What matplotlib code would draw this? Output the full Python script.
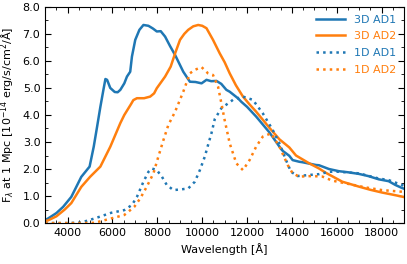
import numpy as np
import matplotlib.pyplot as plt

# wavelength [A] and flux [1e-14 erg/s/cm2/A]
wl_3d_ad1 = [3000, 3130, 3500, 3800, 4165, 4610, 4980, 5165, 5315, 5460, 5600, 5685, 5760,
             5900, 6100, 6230, 6350, 6527, 6645, 6790, 6867, 7015, 7200, 7380, 7600,
             7800, 7975, 8150, 8345, 8565, 8790, 9155, 9450, 9700, 9970, 10190, 10400,
             10635, 10850, 11075, 11225, 11590, 11740, 12000, 12405, 13000, 13440, 13590,
             13880, 14030, 14320, 14475, 15065, 15205, 15650, 16090, 16500, 16980, 17400,
             17865, 18310, 18610, 18900, 19000]
fl_3d_ad1 = [0.12, 0.17, 0.37, 0.6, 0.97, 1.71, 2.09, 2.83, 3.57, 4.3, 4.95, 5.33, 5.3,
             5.0, 4.85, 4.84, 4.93, 5.17, 5.42, 5.6, 6.16, 6.78, 7.15, 7.33, 7.3,
             7.2, 7.09, 7.1, 6.9, 6.55, 6.22, 5.6, 5.23, 5.22, 5.17, 5.3, 5.25,
             5.26, 5.15, 4.93, 4.86, 4.62, 4.49, 4.3, 3.94, 3.35, 2.83, 2.67,
             2.49, 2.33, 2.27, 2.25, 2.15, 2.14, 2.0, 1.92, 1.88, 1.82, 1.74,
             1.62, 1.55, 1.41, 1.3, 1.27]

wl_3d_ad2 = [3000, 3130, 3500, 3870, 4165, 4610, 5000, 5460, 5905, 6350, 6527, 6825,
             6930, 7090, 7410, 7680, 7855, 7975, 8345, 8595, 8800, 9010, 9200, 9375, 9600,
             9820, 10000, 10190, 10480, 10780, 11000, 11225, 11500, 11815, 12100, 12405,
             13000, 13440, 13880, 14180, 14770, 15205, 15510, 16090, 16245, 16980,
             17500, 18015, 18500, 18900, 19000]
fl_3d_ad2 = [0.08, 0.1, 0.25, 0.5, 0.74, 1.34, 1.71, 2.09, 2.83, 3.7, 4.0, 4.4,
             4.55, 4.62, 4.62, 4.68, 4.8, 4.99, 5.42, 5.79, 6.3, 6.78, 7.0, 7.15, 7.28,
             7.33, 7.3, 7.21, 6.78, 6.28, 5.95, 5.54, 5.1, 4.68, 4.4, 4.12,
             3.52, 3.1, 2.8, 2.5, 2.21, 2.02, 1.86, 1.6, 1.53, 1.35,
             1.23, 1.13, 1.05, 0.98, 0.96]

wl_1d_ad1 = [3000, 4000, 4600, 5200, 5940, 6527, 6867, 7090, 7380, 7605, 7755, 7975,
             8200, 8420, 8715, 9085, 9375, 9670, 9895, 10115, 10260, 10410, 10560,
             10855, 11370, 11815, 12255, 12700, 13145, 13440, 13735, 13955, 14250,
             14770, 15205, 15650, 16090, 16980, 17865, 18310, 18900, 19000]
fl_1d_ad1 = [0.0, 0.0, 0.02, 0.17, 0.38, 0.48, 0.67, 0.97, 1.53, 1.9, 2.02, 1.96,
             1.72, 1.41, 1.22, 1.25, 1.28, 1.53, 1.96, 2.46, 2.89, 3.32, 3.85,
             4.25, 4.56, 4.68, 4.56, 4.06, 3.44, 2.95, 2.33, 1.9, 1.74,
             1.78, 1.81, 1.9, 1.9, 1.84, 1.65, 1.59, 1.41, 1.38]

wl_1d_ad2 = [3000, 4500, 5200, 5940, 6527, 6970, 7235, 7530, 7825, 8045, 8270, 8490,
             8790, 9155, 9450, 9670, 9970, 10260, 10480, 10705, 10855, 11000, 11225,
             11520, 11815, 12110, 12405, 12700, 13070, 13440, 13810, 14030, 14320,
             14915, 15355, 15800, 16390, 17275, 18015, 18900, 19000]
fl_1d_ad2 = [0.0, 0.0, 0.01, 0.17, 0.3, 0.6, 0.91, 1.35, 1.84, 2.46, 3.07, 3.63,
             4.12, 4.86, 5.54, 5.67, 5.77, 5.54, 5.48, 5.05, 4.43, 3.81, 2.95,
             2.21, 1.96, 2.33, 2.83, 3.2, 3.32, 2.83, 2.15, 1.84, 1.72,
             1.74, 1.72, 1.57, 1.47, 1.32, 1.22, 1.16, 1.15]

labels = ['3D AD1', '3D AD2', '1D AD1', '1D AD2']
blue, orange = '#1f77b4', '#ff7f0e'

plt.rcParams['font.family'] = ['DejaVu Sans']
plt.rcParams['font.size'] = 8

fig = plt.figure(figsize=(4.07, 2.64), dpi=100)
ax = fig.add_axes([0.111, 0.155, 0.882, 0.819])

ax.plot(wl_3d_ad1, fl_3d_ad1, color=blue, lw=1.8, label=labels[0])
ax.plot(wl_3d_ad2, fl_3d_ad2, color=orange, lw=1.8, label=labels[1])
ax.plot(wl_1d_ad1, fl_1d_ad1, color=blue, lw=1.8, ls=':', label=labels[2])
ax.plot(wl_1d_ad2, fl_1d_ad2, color=orange, lw=1.8, ls=':', label=labels[3])

ax.set_xlim(3000, 19000)
ax.set_ylim(0, 8)
ax.set_xticks(np.arange(4000, 19000, 2000))
ax.set_xticks(np.arange(3000, 19001, 500), minor=True)
ax.set_yticks(np.arange(0, 8.01, 1.0))
ax.set_yticks(np.arange(0, 8.01, 0.5), minor=True)
ax.yaxis.set_major_formatter(plt.FormatStrFormatter('%.1f'))
ax.tick_params(which='both', direction='in', top=True, right=True)
ax.tick_params(which='major', length=4)
ax.tick_params(which='minor', length=2)

ax.set_xlabel('Wavelength [Å]')
ax.set_ylabel(r'F$_\lambda$ at 1 Mpc [10$^{-14}$ erg/s/cm$^2$/Å]')

leg = ax.legend(loc='upper right', frameon=False, handlelength=2.6, labelspacing=0.6,
                borderaxespad=0.3)
for txt, line in zip(leg.get_texts(), leg.get_lines()):
    txt.set_color(line.get_color())

fig.savefig('out.png', dpi=100)
